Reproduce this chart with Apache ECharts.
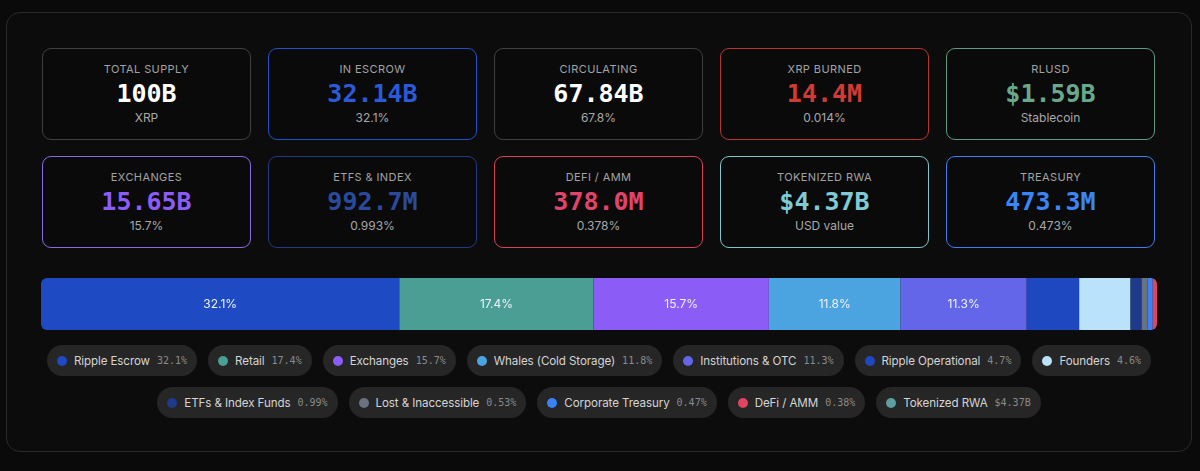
<!DOCTYPE html>
<html lang="en">
<head>
  <meta charset="UTF-8">
  <title>XRP Supply Distribution</title>
  <script src="https://cdn.jsdelivr.net/npm/echarts@6.0.0/dist/echarts.min.js"></script>
  <style>
    html, body { margin: 0; padding: 0; background: #0a0a0a; width: 1200px; height: 471px; overflow: hidden; }
    body { font-family: Inter, "Noto Sans", sans-serif; }
    .panel { position: absolute; left: 6px; top: 12px; width: 1184px; height: 438px;
             border: 1px solid #2a2a2a; border-radius: 14px; background: #0c0c0c; }
    .card { position: absolute; width: 207px; height: 90px; border: 1.5px solid #404040;
            border-radius: 9px; background: #0a0a0a; text-align: center; box-sizing: content-box; }
    .card .lbl { margin-top: 13px; height: 14px; line-height: 14px; font-size: 11px;
                 letter-spacing: 0.4px; color: #a3a3a3; }
    .card .val { margin-top: 4px; height: 28px; line-height: 28px; font-size: 25px; font-weight: bold;
                 font-family: "DejaVu Sans Mono", monospace; color: #fff; }
    .card .sub { margin-top: 3px; height: 14px; line-height: 14px; font-size: 12px; color: #a8a8a8; }
    #bar { position: absolute; left: 41px; top: 278px; width: 1116px; height: 52px;
           border-radius: 6px; overflow: hidden; }
    #legend { position: absolute; left: 30px; top: 345px; width: 1138px; display: flex;
              flex-wrap: wrap; justify-content: center; gap: 11px; }
    .chip { height: 31px; border-radius: 16px; background: #262626; display: flex;
            align-items: center; padding: 0 10px; gap: 7px; }
    .chip .dot { width: 10px; height: 10px; border-radius: 50%; }
    .chip .nm { font-size: 11.6px; color: #d4d4d4; letter-spacing: -0.1px; }
    .chip .tg { font-size: 10px; color: #8a8a8a; font-family: "DejaVu Sans Mono", monospace; }
  </style>
</head>
<body>
<div class="panel"></div>
<div id="cards"></div>
<div id="bar"></div>
<div id="legend"></div>

<script>
// stat cards
var cardLabels = ['TOTAL SUPPLY', 'IN ESCROW', 'CIRCULATING', 'XRP BURNED', 'RLUSD',
                  'EXCHANGES', 'ETFS & INDEX', 'DEFI / AMM', 'TOKENIZED RWA', 'TREASURY'];
var cardValues = ['100B', '32.14B', '67.84B', '14.4M', '$1.59B',
                  '15.65B', '992.7M', '378.0M', '$4.37B', '473.3M'];
var cardSubs = ['XRP', '32.1%', '67.8%', '0.014%', 'Stablecoin',
                '15.7%', '0.993%', '0.378%', 'USD value', '0.473%'];
var cardBorders = ['#404040', '#2350c8', '#404040', '#b8352f', '#5f9a82',
                   '#8b6be0', '#1f3a86', '#d8405a', '#7cc6cc', '#3b7ef0'];
var cardColors = ['#ffffff', '#2b5ad8', '#ffffff', '#d23a34', '#6aa88c',
                  '#8b5cf6', '#2b4a9e', '#e0446a', '#80cad6', '#3b86f6'];

// supply breakdown (% of total)
var holders = ['Ripple Escrow', 'Retail', 'Exchanges', 'Whales (Cold Storage)', 'Institutions & OTC',
               'Ripple Operational', 'Founders', 'ETFs & Index Funds', 'Lost & Inaccessible',
               'Corporate Treasury', 'DeFi / AMM'];
var shares = [32.1, 17.4, 15.7, 11.8, 11.3, 4.7, 4.6, 0.99, 0.53, 0.47, 0.38];
var holderColors = ['#1e4bc4', '#4a9e94', '#8b5cf6', '#4ba3e0', '#6366e8',
                    '#1d48c0', '#bae2fb', '#1e3a8a', '#6b7280', '#3b82f6', '#e0445f'];

// extra legend entry not in the bar
var extraNames = ['Tokenized RWA'];
var extraTags = ['$4.37B'];
var extraColors = ['#5f9ea0'];

var cardsEl = document.getElementById('cards');
cardLabels.forEach(function (l, i) {
  var c = document.createElement('div');
  c.className = 'card';
  c.style.left = (42 + (i % 5) * 226) + 'px';
  c.style.top = (48 + Math.floor(i / 5) * 108) + 'px';
  c.style.borderColor = cardBorders[i];
  c.innerHTML = '<div class="lbl">' + l.replace('&', '&amp;') + '</div>' +
    '<div class="val" style="color:' + cardColors[i] + '">' + cardValues[i] + '</div>' +
    '<div class="sub">' + cardSubs[i] + '</div>';
  cardsEl.appendChild(c);
});

var legendEl = document.getElementById('legend');
function addChip(name, tag, color) {
  var d = document.createElement('div');
  d.className = 'chip';
  d.innerHTML = '<span class="dot" style="background:' + color + '"></span>' +
    '<span class="nm">' + name.replace('&', '&amp;') + '</span><span class="tg">' + tag + '</span>';
  legendEl.appendChild(d);
}
holders.forEach(function (h, i) { addChip(h, shares[i] + '%', holderColors[i]); });
extraNames.forEach(function (n, i) { addChip(n, extraTags[i], extraColors[i]); });

var total = shares.reduce(function (a, b) { return a + b; }, 0);
var chart = echarts.init(document.getElementById('bar'));
chart.setOption({
  animation: false,
  grid: { left: 0, right: 0, top: 0, bottom: 0 },
  xAxis: { type: 'value', min: 0, max: total, show: false },
  yAxis: { type: 'category', data: ['supply'], show: false },
  series: holders.map(function (h, i) {
    return {
      name: h,
      type: 'bar',
      stack: 'all',
      barWidth: '100%',
      data: [shares[i]],
      itemStyle: { color: holderColors[i] },
      label: {
        show: shares[i] >= 10,
        position: 'inside',
        formatter: shares[i] + '%',
        color: '#eef2fb',
        fontSize: 12,
        fontFamily: 'Inter'
      }
    };
  })
});
</script>
</body>
</html>
